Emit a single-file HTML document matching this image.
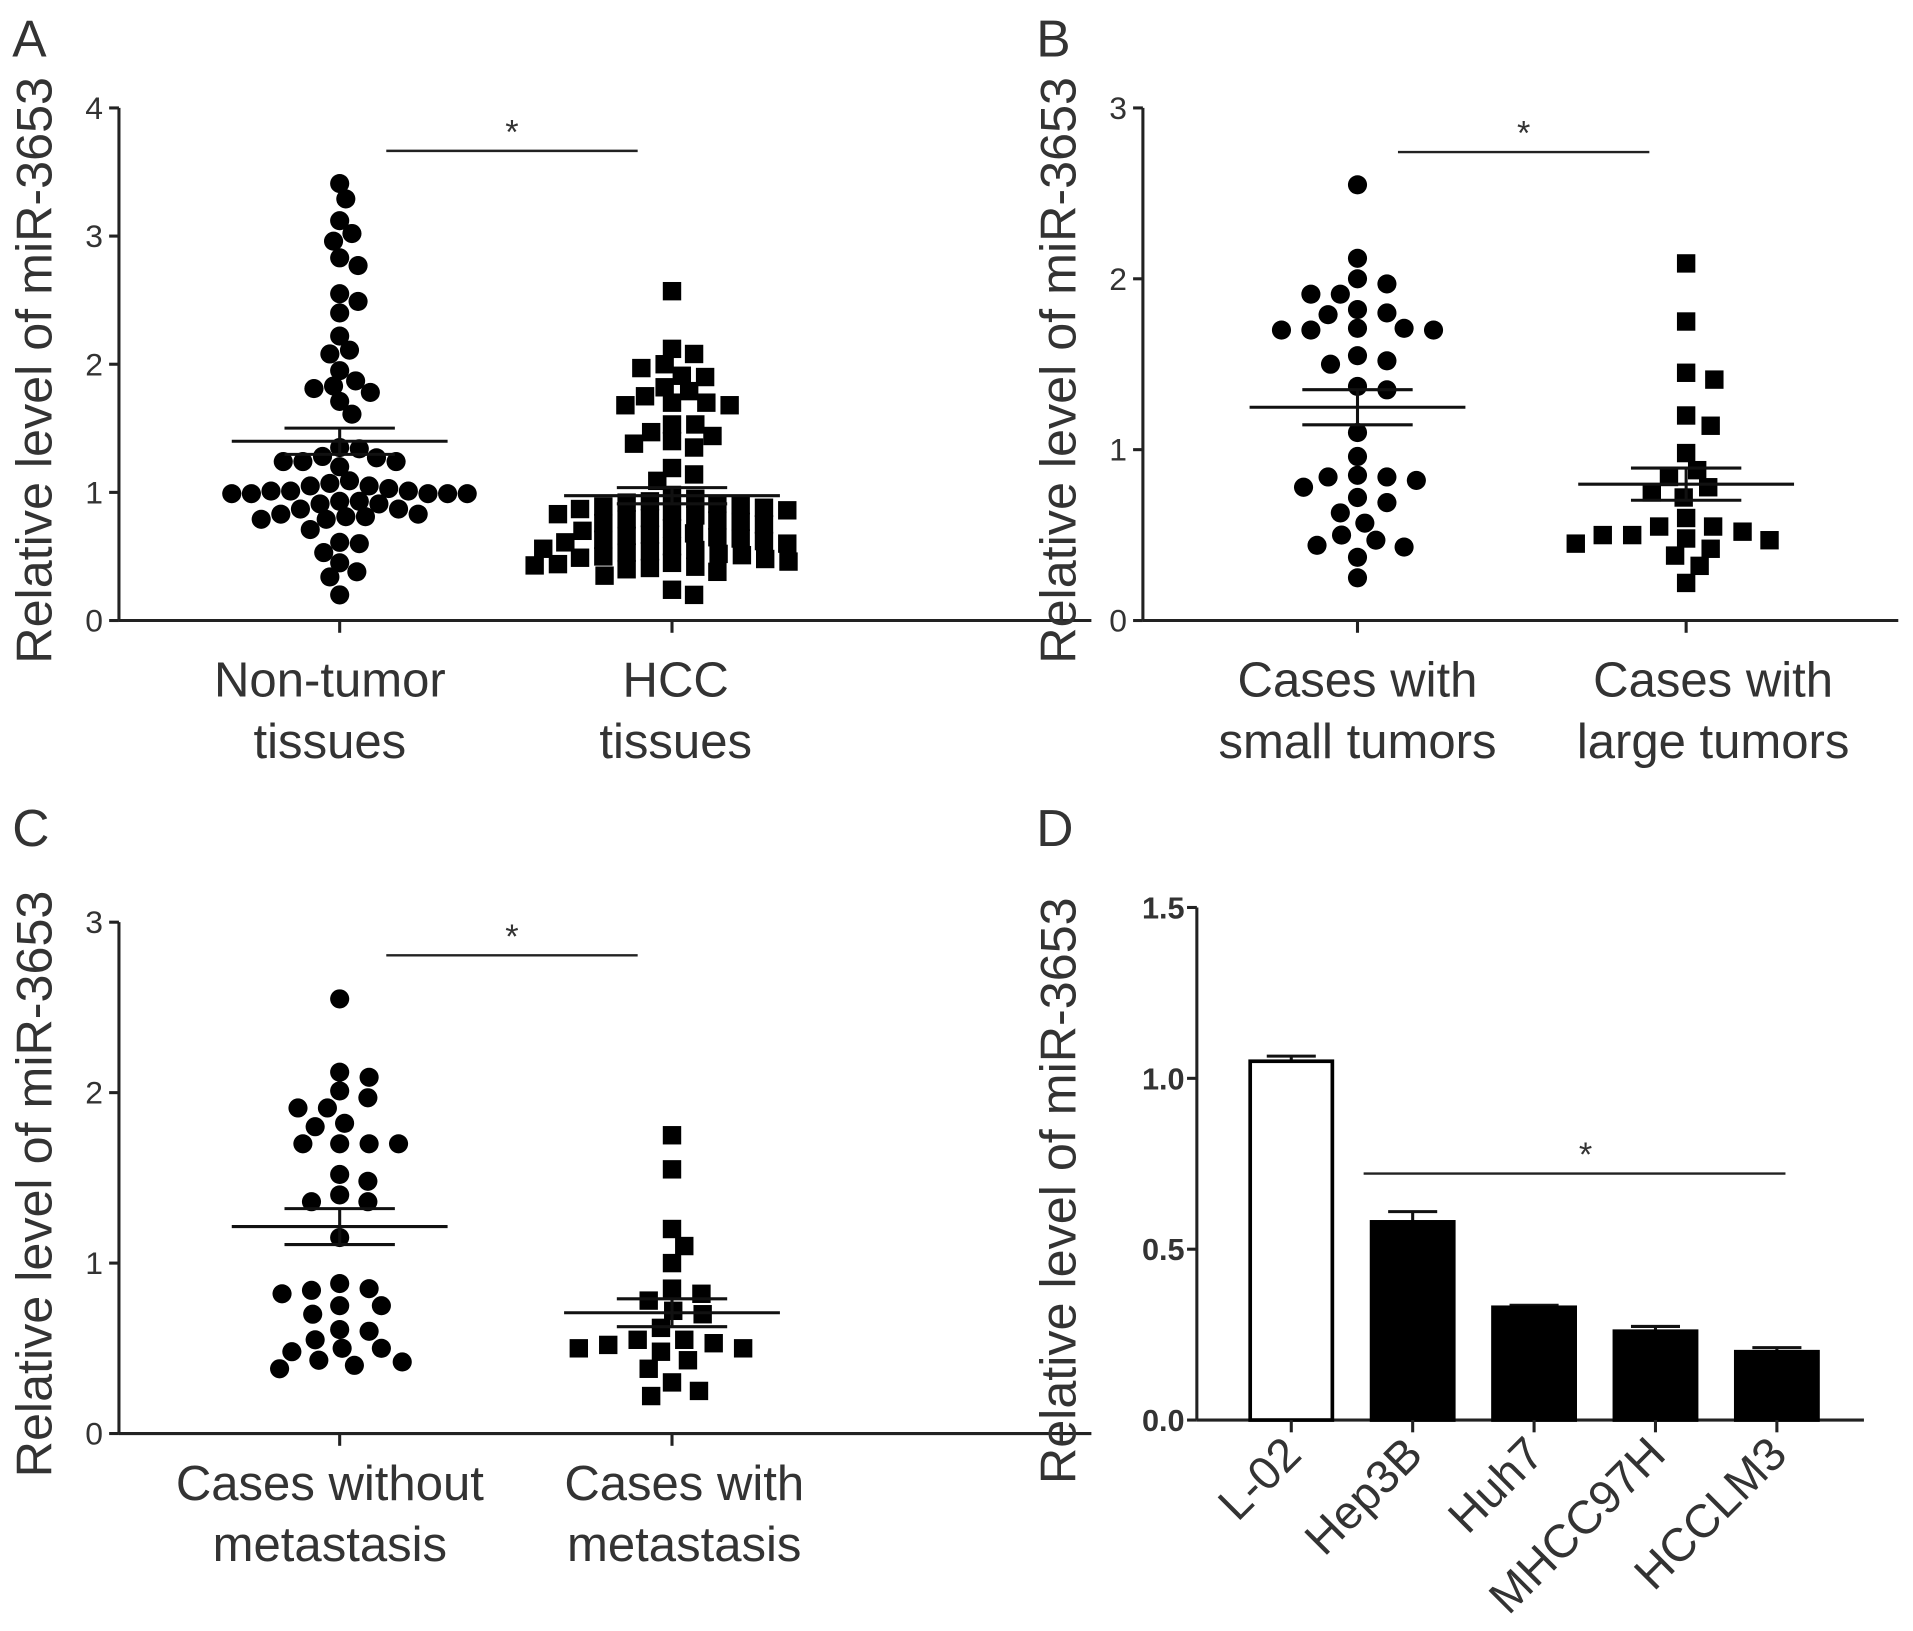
<!DOCTYPE html>
<html><head><meta charset="utf-8"><style>
html,body{margin:0;padding:0;background:#fff;}
svg{display:block;}
text{font-family:"Liberation Sans",Arial,sans-serif;fill:#333;}
</style></head><body>
<svg id="fig" width="1913" height="1631" viewBox="0 0 1560 1330" xmlns="http://www.w3.org/2000/svg"></svg>
<script>
// ---- data ----
const aNonTumor=[3.41,3.29,3.12,3.02,2.96,2.83,2.77,2.55,2.49,2.40,2.22,2.11,2.08,1.95,1.87,1.83,1.81,1.78,1.71,1.61,1.35,1.34,1.28,1.27,1.24,1.24,1.24,1.20,1.09,1.07,1.05,1.05,1.03,1.01,1.01,1.01,0.99,0.99,0.99,0.99,0.99,0.93,0.93,0.91,0.91,0.87,0.87,0.83,0.83,0.81,0.81,0.79,0.79,0.71,0.61,0.60,0.53,0.45,0.38,0.34,0.20];
const aHCC=[2.57,2.12,2.08,2.00,1.97,1.91,1.90,1.82,1.79,1.75,1.70,1.70,1.68,1.68,1.53,1.53,1.47,1.44,1.40,1.38,1.35,1.19,1.14,1.09,0.98,0.95,0.93,0.92,0.91,0.90,0.89,0.88,0.87,0.86,0.85,0.83,0.82,0.80,0.79,0.78,0.77,0.76,0.75,0.72,0.70,0.68,0.67,0.66,0.65,0.64,0.63,0.62,0.61,0.60,0.58,0.56,0.55,0.54,0.53,0.52,0.51,0.50,0.49,0.48,0.46,0.45,0.44,0.43,0.42,0.41,0.40,0.38,0.35,0.24,0.20];
const bSmall=[2.55,2.12,2.00,1.97,1.91,1.91,1.82,1.80,1.79,1.71,1.71,1.70,1.70,1.70,1.55,1.52,1.50,1.37,1.35,1.10,0.96,0.85,0.84,0.84,0.82,0.78,0.72,0.69,0.63,0.57,0.50,0.47,0.44,0.43,0.37,0.25];
const bLarge=[2.09,1.75,1.45,1.41,1.20,1.14,0.98,0.88,0.84,0.78,0.75,0.72,0.60,0.55,0.55,0.52,0.50,0.50,0.48,0.47,0.45,0.42,0.38,0.32,0.22];
const cWithout=[2.55,2.12,2.09,2.01,1.97,1.91,1.91,1.82,1.80,1.70,1.70,1.70,1.70,1.52,1.48,1.40,1.36,1.36,1.15,0.88,0.85,0.84,0.82,0.75,0.75,0.70,0.61,0.60,0.55,0.50,0.50,0.48,0.43,0.42,0.40,0.38];
const cWith=[1.75,1.55,1.20,1.10,1.00,0.85,0.82,0.78,0.72,0.70,0.62,0.55,0.55,0.53,0.52,0.50,0.50,0.48,0.43,0.38,0.30,0.25,0.22];
const dCells=["L-02","Hep3B","Huh7","MHCC97H","HCCLM3"];
const dValues=[1.05,0.58,0.33,0.26,0.20];
const dErrors=[0.015,0.03,0.006,0.014,0.012];
const ticksA=[0,1,2,3,4];
const ticks3=[0,1,2,3];
const ticksD=[0,0.5,1.0,1.5];
const tickLabelsD=["0.0","0.5","1.0","1.5"];

const svg=document.getElementById('fig');
const NS="http://www.w3.org/2000/svg";
function el(tag,attrs,parent){const e=document.createElementNS(NS,tag);for(const k in attrs)e.setAttribute(k,attrs[k]);(parent||svg).appendChild(e);return e;}
function txt(s,attrs,parent){const t=el('text',attrs,parent);t.textContent=s;return t;}

function beeswarm(vals,yScale,Dx,Dy){
  const idx=vals.map((v,i)=>i).sort((a,b)=>vals[b]-vals[a]);
  const placed=[];const off=new Array(vals.length).fill(0);
  for(const i of idx){
    const y=yScale(vals[i]);
    for(let k=0;k<600;k++){
      const cand=(k%2?1:-1)*Math.ceil(k/2);
      let ok=true;
      for(const p of placed){const dx=(p.x-cand)/Dx,dy=(p.y-y)/Dy;if(dx*dx+dy*dy<1){ok=false;break;}}
      if(ok){off[i]=cand;placed.push({x:cand,y:y});break;}
    }
  }
  return off;
}

function scatterPanel(cfg){
  const g=el('g',{});
  
  
  const y=v=>cfg.y0-(v-0)*(cfg.y0-cfg.yTop)/cfg.yMax;
  const letter=txt(cfg.letter,{x:cfg.lx,y:cfg.ly,'font-size':42},g);
  
  const ax=el('line',{x1:cfg.ax,y1:cfg.yTop,x2:cfg.ax,y2:cfg.y0,stroke:'#222','stroke-width':2.5},g);
  
  const xx=el('line',{x1:cfg.ax,y1:cfg.y0,x2:cfg.axEnd,y2:cfg.y0,stroke:'#222','stroke-width':2.5},g);
  
  cfg.ticks.forEach(t=>{
    el('line',{x1:cfg.ax-8,y1:y(t),x2:cfg.ax,y2:y(t),stroke:'#222','stroke-width':2.5},g);
    const tl=txt(String(t),{x:cfg.ax-13,y:y(t)+9,'font-size':26,'text-anchor':'end'},g);
    
  });
  const yt=txt('Relative level of miR-3653',{x:0,y:0,'font-size':41,'text-anchor':'middle',fill:'#444',transform:`translate(${cfg.ax-55},${(cfg.yTop+cfg.y0)/2+5}) rotate(-90)`},g);
  
  cfg.groups.forEach((gr,gi)=>{
    const cx=cfg.cx[gi];
    el('line',{x1:cx,y1:cfg.y0,x2:cx,y2:cfg.y0+10,stroke:'#222','stroke-width':2.5},g);
    gr.label.forEach((l,li)=>{
      const t=txt(l,{x:cx+(gr.dx||0),y:cfg.y0+cfg.lab+li*50,'font-size':40,'text-anchor':'middle',fill:'#444'},g);
      
    });
    const off=beeswarm(gr.vals,y,gr.bx||cfg.bx||22,cfg.by||14);
    gr.vals.forEach((v,i)=>{
      let m;
      if(gr.shape==='circle') m=el('circle',{cx:cx+off[i],cy:y(v),r:7.8,fill:'#000'},g);
      else m=el('rect',{x:cx+off[i]-7.5,y:y(v)-7.5,width:15,height:15,fill:'#000'},g);
      
      
    });
    const n=gr.vals.length,mean=gr.vals.reduce((a,b)=>a+b,0)/n;
    const sd=Math.sqrt(gr.vals.reduce((a,b)=>a+(b-mean)*(b-mean),0)/(n-1));
    const sem=sd/Math.sqrt(n);
    const ml=el('line',{x1:cx-88,y1:y(mean),x2:cx+88,y2:y(mean),stroke:'#111','stroke-width':2.5},g);
    
    el('line',{x1:cx,y1:y(mean+sem),x2:cx,y2:y(mean-sem),stroke:'#111','stroke-width':2.5},g);
    [mean+sem,mean-sem].forEach(v=>{
      const c=el('line',{x1:cx-45,y1:y(v),x2:cx+45,y2:y(v),stroke:'#111','stroke-width':2.5},g);
      
    });
  });
  const sl=el('line',{x1:cfg.sig[0],y1:cfg.sig[2],x2:cfg.sig[1],y2:cfg.sig[2],stroke:'#222','stroke-width':2},g);
  
  const st=txt('*',{x:(cfg.sig[0]+cfg.sig[1])/2,y:cfg.sig[2]-6,'font-size':28,'text-anchor':'middle'},g);
  
}

scatterPanel({name:'panel-a',letter:'A',lx:10,ly:46,ax:97,axEnd:890,yTop:88,y0:506,yMax:4,ticks:ticksA,cx:[277,548],sig:[315,520,123],lab:62,bx:19,by:13,
  groups:[{vals:aNonTumor,shape:'circle',label:['Non-tumor','tissues'],dx:-8,bx:16},{vals:aHCC,shape:'square',label:['HCC','tissues'],dx:3}]});
scatterPanel({name:'panel-b',letter:'B',lx:845,ly:46,ax:932,axEnd:1548,yTop:88,y0:506,yMax:3,ticks:ticks3,cx:[1107,1375],sig:[1140,1345,124],lab:62,bx:24,by:15,
  groups:[{vals:bSmall,shape:'circle',label:['Cases with','small tumors']},{vals:bLarge,shape:'square',label:['Cases with','large tumors'],dx:22}]});
scatterPanel({name:'panel-c',letter:'C',lx:10,ly:690,ax:97,axEnd:890,yTop:752,y0:1169,yMax:3,ticks:ticks3,cx:[277,548],sig:[315,520,779],lab:54,bx:24,by:15,
  groups:[{vals:cWithout,shape:'circle',label:['Cases without','metastasis'],dx:-8},{vals:cWith,shape:'square',label:['Cases with','metastasis'],dx:10}]});

// ---- panel D ----
(function(){
  const g=el('g',{});
  
  
  const ax=976,y0=1158,yTop=740,yMax=1.5,axEnd=1520,first=1053,step=99,bw=67;
  const y=v=>y0-v*(y0-yTop)/yMax;
  const xc=i=>first+i*step;
  const L=txt('D',{x:845,y:690,'font-size':42},g);
  
  const ya=el('line',{x1:ax,y1:yTop,x2:ax,y2:y0,stroke:'#222','stroke-width':2.5},g);
  
  const xa=el('line',{x1:ax,y1:y0,x2:axEnd,y2:y0,stroke:'#222','stroke-width':2.5},g);
  
  ticksD.forEach((t,i)=>{
    el('line',{x1:ax-8,y1:y(t),x2:ax,y2:y(t),stroke:'#222','stroke-width':2.5},g);
    const tl=txt(tickLabelsD[i],{x:ax-10,y:y(t)+9,'font-size':25,'font-weight':'bold','text-anchor':'end',fill:'#444'},g);
    
  });
  const yt=txt('Relative level of miR-3653',{x:0,y:0,'font-size':41,'text-anchor':'middle',fill:'#444',transform:`translate(${877},${(yTop+y0)/2+22}) rotate(-90)`},g);
  
  dValues.forEach((v,i)=>{
    const cx=xc(i);
    const e=el('line',{x1:cx,y1:y(v),x2:cx,y2:y(v+dErrors[i]),stroke:'#111','stroke-width':2.5},g);
    
    el('line',{x1:cx-20,y1:y(v+dErrors[i]),x2:cx+20,y2:y(v+dErrors[i]),stroke:'#111','stroke-width':2.5},g);
    const b=el('rect',{x:cx-bw/2,y:y(v),width:bw,height:y0-y(v),fill:i===0?'#fff':'#000',stroke:'#000','stroke-width':3},g);
    
    
    el('line',{x1:cx,y1:y0,x2:cx,y2:y0+10,stroke:'#222','stroke-width':2.5},g);
    const t=txt(dCells[i],{x:0,y:0,'font-size':38,'text-anchor':'end',fill:'#444',transform:`translate(${cx+10},${y0+30}) rotate(-45)`},g);
    
  });
  const sl=el('line',{x1:1112,y1:957,x2:1456,y2:957,stroke:'#222','stroke-width':2},g);
  
  const st=txt('*',{x:1293,y:951,'font-size':28,'text-anchor':'middle'},g);
  
})();
</script>
</body></html>
